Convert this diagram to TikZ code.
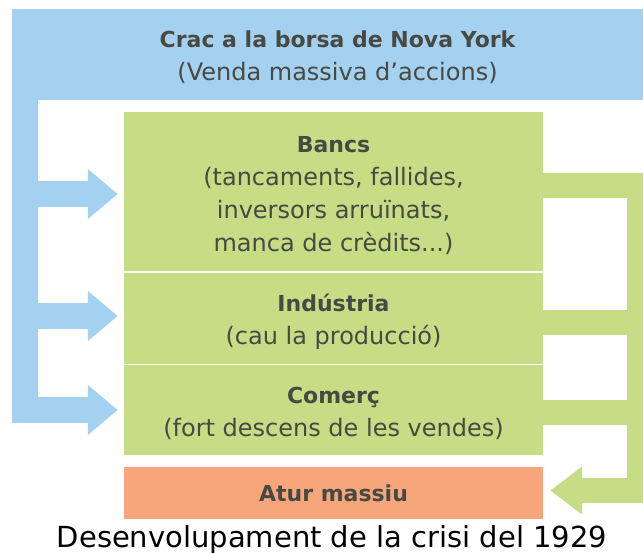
\documentclass[tikz,border=0pt]{standalone}
\usepackage{fontspec}
\setmainfont{DejaVu Sans}
\usetikzlibrary{arrows.meta,calc}
\definecolor{bandblue}{HTML}{A4D1EF}
\definecolor{boxgreen}{HTML}{C6DD85}
\definecolor{boxsalmon}{HTML}{F6A67A}
\definecolor{txtgray}{HTML}{474943}
\newcommand{\ttlfont}{\bfseries\fontsize{22}{33}\selectfont}
\newcommand{\tophigh}{\rule{0pt}{23pt}}
\begin{document}
\begin{tikzpicture}[x=1pt,y=-1pt,
  box/.style={rectangle, inner sep=0pt, minimum width=419pt, align=center,
    text=txtgray, font=\fontsize{24}{33}\selectfont},
  greenbox/.style={box, fill=boxgreen},
  bluearr/.style={draw=bandblue, line width=26pt, line join=miter,
    -{Triangle[length=30pt,width=48pt]}, shorten >=6pt},
  greenarr/.style={draw=boxgreen, line width=25pt, line join=miter,
    -{Triangle[length=32pt,width=46pt]}, shorten >=7pt},
  greenbar/.style={draw=boxgreen, line width=25pt, line join=miter}]
\useasboundingbox (0,0) rectangle (643,553);
\clip (0,0) rectangle (643,553);

% boxes
\node[box, fill=bandblue, minimum width=651pt, minimum height=91pt] (crac) at (337.5,54.5)
  {\tophigh{\ttlfont Crac a la borsa de Nova York}\\(Venda massiva d’accions)};
\node[greenbox, minimum height=159.5pt] (bancs) at (333.5,191.75)
  {\tophigh{\ttlfont Bancs}\\(tancaments, fallides,\\inversors arruïnats,\\manca de crèdits...)};
\node[greenbox, minimum height=91pt] (industria) at (333.5,318.5)
  {\tophigh{\ttlfont Indústria}\\(cau la producció)};
\node[greenbox, minimum height=89.5pt] (comerc) at (333.5,410.25)
  {\tophigh{\ttlfont Comerç}\\(fort descens de les vendes)};
\node[box, fill=boxsalmon, minimum height=52pt] (atur) at (333.5,493)
  {{\ttlfont Atur massiu}};

% blue connectors
\coordinate (btop) at (24.5,95);
\coordinate (b1) at (24.5,194);
\coordinate (b2) at (24.5,316);
\coordinate (b3) at (24.5,410);
\draw[bluearr] (btop) -- (b3) -- (b3 -| comerc.west);
\draw[bluearr] (b1) -- (b1 -| bancs.west);
\draw[bluearr] (b2) -- (b2 -| industria.west);

% green connectors
\coordinate (g1) at (639.5,185.5);
\coordinate (g2) at (639.5,322.5);
\coordinate (g3) at (639.5,412.5);
\coordinate (g4) at (639.5,490.5);
\draw[greenarr] (g1 -| bancs.east) -- (g1) -- (g4) -- (g4 -| atur.east);
\draw[greenbar] (g2 -| industria.east) -- (g2);
\draw[greenbar] (g3 -| comerc.east) -- (g3);

% caption
\node[font=\fontsize{29}{34}\selectfont, anchor=base, inner sep=0pt] (caption) at (332,547)
  {Desenvolupament de la crisi del 1929};
\end{tikzpicture}
\end{document}
